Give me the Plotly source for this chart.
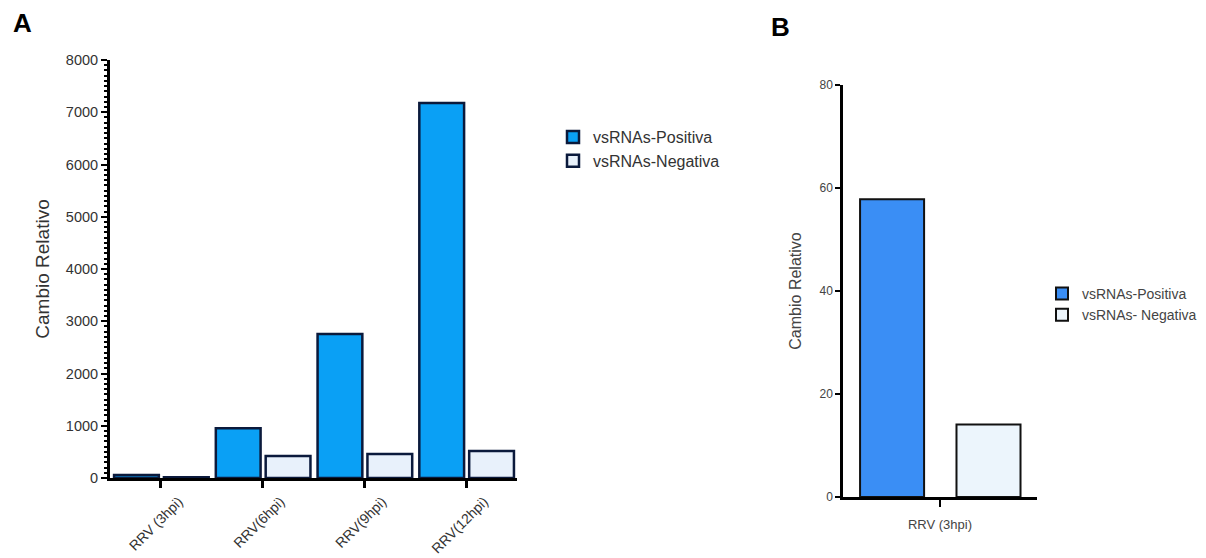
import plotly.graph_objects as go

# ---- data ----
categories_a = ["RRV (3hpi)", "RRV(6hpi)", "RRV(9hpi)", "RRV(12hpi)"]
positiva_a = [58, 950, 2755, 7175]
negativa_a = [14, 420, 460, 517]

categories_b = ["RRV (3hpi)"]
positiva_b = [57.8]
negativa_b = [14.1]

y_ticks_a = [0, 1000, 2000, 3000, 4000, 5000, 6000, 7000, 8000]
y_ticks_b = [0, 20, 40, 60, 80]

FONT = "Liberation Sans, Arial, sans-serif"
W, H = 1206, 558

def px_x(p):
    return p / W

def px_y(p):
    return 1 - p / H

fig = go.Figure()

# Panel A
fig.add_trace(go.Bar(
    x=categories_a, y=positiva_a, name="vsRNAs-Positiva",
    xaxis="x", yaxis="y", legend="legend",
    marker=dict(color="#0aa0f5", line=dict(color="#0b1a3c", width=2.5)),
    width=0.44, offset=-0.46,
))
fig.add_trace(go.Bar(
    x=categories_a, y=negativa_a, name="vsRNAs-Negativa",
    xaxis="x", yaxis="y", legend="legend",
    marker=dict(color="#e8f1fb", line=dict(color="#0b1a3c", width=2.5)),
    width=0.44, offset=0.03,
))

# Panel B
fig.add_trace(go.Bar(
    x=categories_b, y=positiva_b, name="vsRNAs-Positiva",
    xaxis="x2", yaxis="y2", legend="legend2",
    marker=dict(color="#3a8ef5", line=dict(color="#111111", width=2)),
    width=0.33, offset=-0.412,
))
fig.add_trace(go.Bar(
    x=categories_b, y=negativa_b, name="vsRNAs- Negativa",
    xaxis="x2", yaxis="y2", legend="legend2",
    marker=dict(color="#ecf5fc", line=dict(color="#111111", width=2)),
    width=0.33, offset=0.085,
))

axis_common = dict(showgrid=False, zeroline=False, showline=True, automargin=False,
                   linecolor="black", ticks="outside", tickcolor="black")

fig.update_layout(
    template="none",
    width=W, height=H,
    margin=dict(l=0, r=0, t=0, b=0, autoexpand=False),
    paper_bgcolor="white", plot_bgcolor="white",
    font=dict(family=FONT, color="#222222"),
    barmode="group",
    xaxis=dict(domain=[px_x(110), px_x(517)], anchor="y",
               range=[-0.5, 3.5], linewidth=3, ticklen=7, tickwidth=2.5,
               tickangle=-45, ticklabelshift=18,
               tickfont=dict(size=14, color="#333333"),
               **axis_common),
    yaxis=dict(domain=[px_y(478), px_y(60)], anchor="x",
               range=[0, 8000], tickvals=y_ticks_a, linewidth=3,
               ticklen=6, tickwidth=2,
               minor=dict(dtick=100, ticklen=3, tickwidth=1.5,
                          tickcolor="black", ticks="outside"),
               tickfont=dict(size=14.5, color="#333333"),
               title=dict(text="Cambio Relativo", standoff=12,
                          font=dict(size=19, color="#333333")),
               **axis_common),
    xaxis2=dict(domain=[px_x(843), px_x(1037)], anchor="y2",
                range=[-0.5, 0.5], linewidth=2.5, ticklen=7, tickwidth=2,
                ticklabelstandoff=7,
                tickfont=dict(size=13, color="#444444"),
                **axis_common),
    yaxis2=dict(domain=[px_y(497), px_y(85)], anchor="x2",
                range=[0, 80], tickvals=y_ticks_b, linewidth=2.5,
                ticklen=5, tickwidth=2,
                tickfont=dict(size=12, color="#444444"),
                title=dict(text="Cambio Relativo", standoff=14,
                           font=dict(size=16, color="#444444")),
                **axis_common),
    legend=dict(x=px_x(553), y=px_y(120), xanchor="left", yanchor="top",
                font=dict(size=16, color="#333333"), bgcolor="rgba(0,0,0,0)",
                tracegroupgap=0),
    legend2=dict(x=px_x(1042), y=px_y(278), xanchor="left", yanchor="top",
                 font=dict(size=14, color="#444444"), bgcolor="rgba(0,0,0,0)",
                 tracegroupgap=0),
    annotations=[
        dict(text="<b>A</b>", x=px_x(22), y=px_y(23), xref="paper", yref="paper",
             xanchor="center", yanchor="middle",
             showarrow=False, font=dict(size=26, color="black", family=FONT)),
        dict(text="<b>B</b>", x=px_x(780), y=px_y(27), xref="paper", yref="paper",
             xanchor="center", yanchor="middle",
             showarrow=False, font=dict(size=26, color="black", family=FONT)),
    ],
)

fig.write_html("out.html")
